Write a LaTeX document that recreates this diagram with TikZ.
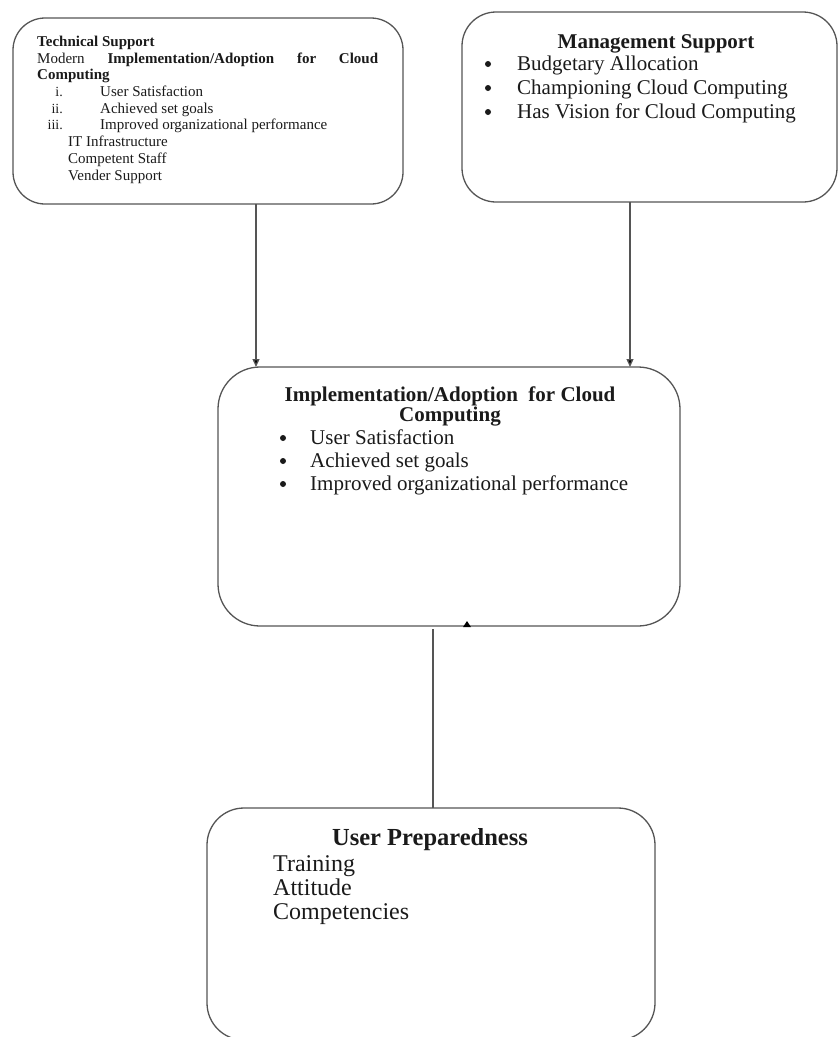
\documentclass[tikz,border=0pt]{standalone}
\usepackage{fontspec}
\setmainfont{Liberation Serif}
\usetikzlibrary{arrows.meta}
\definecolor{linegray}{HTML}{555555}
\definecolor{txtcol}{HTML}{1A1A1A}
\begin{document}
\begin{tikzpicture}[x=1pt,y=-1pt,
  boxshape/.style={draw=linegray, line width=1.3pt, rounded corners=#1, rectangle, outer sep=0pt, inner sep=0pt, anchor=north west},
  conn/.style={draw=linegray, line width=1.3pt},
  arr/.style={conn, -{Triangle[length=8pt,width=7pt,fill=black]}},
  txt/.style={anchor=base west, inner sep=0pt, text=txtcol},
  rtxt/.style={anchor=base east, inner sep=0pt, text=txtcol},
  ctxt/.style={anchor=base, inner sep=0pt, text=txtcol},
  bul/.style={circle, fill=txtcol, inner sep=0pt, minimum size=6pt},
  fs/.style={font=\fontsize{#1}{#1}\selectfont},
]
\useasboundingbox (0,0) rectangle (839,1037);

% boxes
\node[boxshape=32pt, minimum width=390pt, minimum height=186pt] (tech) at (13,18) {};
\node[boxshape=34pt, minimum width=375pt, minimum height=190pt] (mgmt) at (462,12) {};
\node[boxshape=42pt, minimum width=462pt, minimum height=259pt] (mid) at (218,367) {};
\node[boxshape=37pt, minimum width=448pt, minimum height=232pt] (user) at (207,808) {};

% technical support text
\node[txt, fs=15] (t1) at (37,46) {\textbf{Technical Support}};
\node[txt, fs=15] (t2) at (37,63) {\makebox[341pt][s]{Modern \textbf{Implementation/Adoption} \textbf{for} \textbf{Cloud}}};
\node[txt, fs=15] (t3) at (37,79) {\textbf{Computing}};
\node[rtxt, fs=14] (r1) at (63,96) {i.};
\node[rtxt, fs=14] (r2) at (63,113) {ii.};
\node[rtxt, fs=14] (r3) at (63,129) {iii.};
\node[txt, fs=15] (l1) at (100,96) {User Satisfaction};
\node[txt, fs=15] (l2) at (100,113) {Achieved set goals};
\node[txt, fs=15] (l3) at (100,129) {Improved organizational performance};
\node[txt, fs=15] (l4) at (68,146) {IT Infrastructure};
\node[txt, fs=15] (l5) at (68,163) {Competent Staff};
\node[txt, fs=15] (l6) at (68,180) {Vender Support};

% management support text
\node[ctxt, fs=21] (m0) at (656,48) {\textbf{Management Support}};
\node[bul] (mb1) at (488,64) {};
\node[bul] (mb2) at (488,88) {};
\node[bul] (mb3) at (488,112) {};
\node[txt, fs=21] (m1) at (517,70) {Budgetary Allocation};
\node[txt, fs=21] (m2) at (517,94) {Championing Cloud Computing};
\node[txt, fs=21] (m3) at (517,118) {Has Vision for Cloud Computing};

% implementation text
\node[ctxt, fs=21] (i0) at (450,401) {\textbf{Implementation/Adoption\ \ for Cloud}};
\node[ctxt, fs=21] (i0b) at (450,421) {\textbf{Computing}};
\node[bul] (ib1) at (283,438) {};
\node[bul] (ib2) at (283,461) {};
\node[bul] (ib3) at (283,484) {};
\node[txt, fs=21] (i1) at (310,444) {User Satisfaction};
\node[txt, fs=21] (i2) at (310,467) {Achieved set goals};
\node[txt, fs=21] (i3) at (310,490) {Improved organizational performance};

% user preparedness text
\node[ctxt, fs=24.5] (u0) at (430,845) {\textbf{User Preparedness}};
\node[txt, fs=24] (u1) at (273,871) {Training};
\node[txt, fs=24] (u2) at (273,895) {Attitude};
\node[txt, fs=24] (u3) at (273,919) {Competencies};

% connectors
\coordinate (xa) at (256,0);
\coordinate (xb) at (630,0);
\coordinate (xc) at (433,0);
\draw[arr] (tech.south -| xa) -- (mid.north -| xa);
\draw[arr] (mgmt.south -| xb) -- (mid.north -| xb);
\coordinate (cend) at ([yshift=-3pt]mid.south -| xc);
\draw[conn] (user.north -| xc) -- (cend);
% small stray arrow tip on the lower edge of the middle box
\fill[black] (463,627) -- (471,627) -- (467,621) -- cycle;
\end{tikzpicture}
\end{document}
